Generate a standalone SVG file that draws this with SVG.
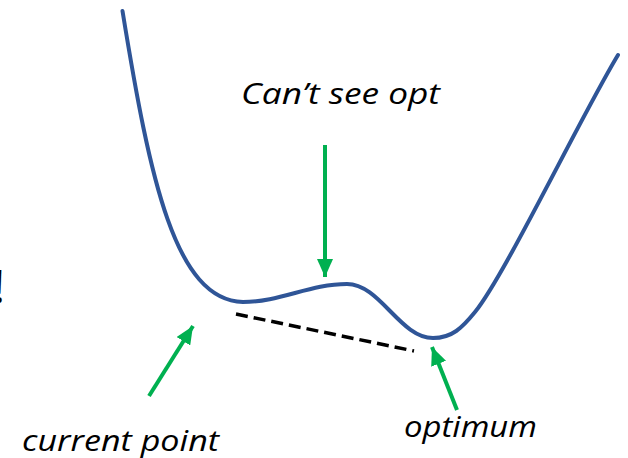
<svg xmlns="http://www.w3.org/2000/svg" width="628" height="458" viewBox="0 0 628 458">
<style>
.curve{fill:none;stroke:#2F5597;stroke-width:4;stroke-linecap:round}
.arrow{stroke:#00B050;stroke-width:4;fill:none}
.dash{stroke:#000;stroke-width:3.5;stroke-dasharray:12 6;fill:none}
.lbl{font-family:"Open Sans","Liberation Sans",sans-serif;font-style:italic;font-size:30px;fill:#000}
</style>
<defs>
<marker id="ah" viewBox="0 0 18 16" refX="18" refY="8" markerWidth="18" markerHeight="16" markerUnits="userSpaceOnUse" orient="auto">
<path d="M0,0 L18,8 L0,16 z" fill="#00B050"/>
</marker>
</defs>
<text x="-7" y="303" style="font-family:'Open Sans','Liberation Sans',sans-serif;font-size:46px;fill:#000">!</text>
<g id="curve">
<path class="curve" d="M122.5,11 C150,180 175,300 243,302 C280,302 310,284 347,284 C380,284 400,338 433,338 C452,338 462,328 475,312 C505,275 580,118 618,55"/>
</g>
<g id="connectors">
<line class="arrow" x1="325" y1="145" x2="325" y2="277" marker-end="url(#ah)"/>
<line class="arrow" x1="149" y1="396" x2="193" y2="326" marker-end="url(#ah)"/>
<line class="arrow" x1="457" y1="410" x2="432" y2="347" marker-end="url(#ah)"/>
<line class="dash" x1="236" y1="314" x2="414" y2="351"/>
</g>
<g id="label-cant-see">
<text class="lbl" x="241" y="104" textLength="199" lengthAdjust="spacingAndGlyphs">Can’t see opt</text>
</g>
<g id="label-current">
<text class="lbl" x="22" y="451" textLength="197" lengthAdjust="spacingAndGlyphs">current point</text>
</g>
<g id="label-optimum">
<text class="lbl" x="404" y="437" textLength="133" lengthAdjust="spacingAndGlyphs">optimum</text>
</g>
</svg>
